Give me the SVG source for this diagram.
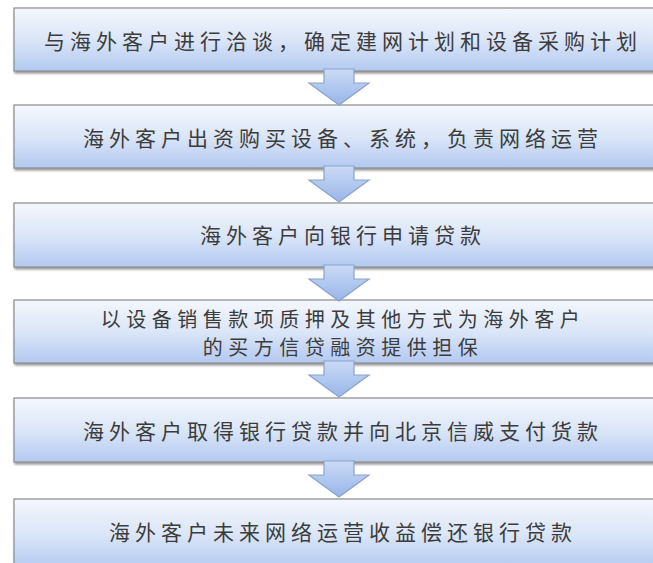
<svg xmlns="http://www.w3.org/2000/svg" width="653" height="563" viewBox="0 0 653 563">
<defs>
<linearGradient id="boxg" x1="0" y1="0" x2="0" y2="1">
<stop offset="0" stop-color="#f4f7fd"/>
<stop offset="0.5" stop-color="#dbe6f8"/>
<stop offset="1" stop-color="#b3c9f1"/>
</linearGradient>
<linearGradient id="arrg" x1="0" y1="0" x2="0" y2="1">
<stop offset="0" stop-color="#cbdaf5"/>
<stop offset="1" stop-color="#98b6ea"/>
</linearGradient>
<filter id="sh" x="-5%" y="-10%" width="110%" height="130%">
<feDropShadow dx="1" dy="2" stdDeviation="1.2" flood-color="#555" flood-opacity="0.6"/>
</filter>
<path id="arrow" d="M-15,-2 L15,-2 L15,12 L30,12 L0,34 L-30,12 L-15,12 Z"/>
</defs>
<style>
.box{fill:url(#boxg);stroke:#8c8c8c;stroke-width:1.2;filter:url(#sh)}
.t{font-family:"Noto Sans CJK SC","Noto Sans CJK TC",sans-serif;font-size:21px;fill:#3c3c3c;text-anchor:middle;dominant-baseline:central;letter-spacing:5px}
.t2{font-size:20px;letter-spacing:5.5px}
.arr{fill:url(#arrg);stroke:#8aa3c8;stroke-width:1.2;stroke-linejoin:miter}
</style>
<rect width="653" height="563" fill="#ffffff"/>
<g id="n1"><rect class="box" x="14" y="8" width="660" height="63"/><text class="t" x="343" y="40">与海外客户进行洽谈，确定建网计划和设备采购计划</text></g>
<g id="n2"><rect class="box" x="14" y="105" width="660" height="63"/><text class="t" x="343" y="137">海外客户出资购买设备、系统，负责网络运营</text></g>
<g id="n3"><rect class="box" x="14" y="203" width="660" height="64"/><text class="t" x="343" y="234">海外客户向银行申请贷款</text></g>
<g id="n4"><rect class="box" x="14" y="300" width="660" height="63"/><text class="t t2" x="343" y="318">以设备销售款项质押及其他方式为海外客户</text><text class="t t2" x="343" y="346">的买方信贷融资提供担保</text></g>
<g id="n5"><rect class="box" x="14" y="398" width="660" height="64"/><text class="t" x="343" y="430">海外客户取得银行贷款并向北京信威支付货款</text></g>
<g id="n6"><rect class="box" x="14" y="499" width="660" height="70"/><text class="t" x="343" y="531">海外客户未来网络运营收益偿还银行贷款</text></g>
<g id="connectors">
<use href="#arrow" class="arr" transform="translate(339,71)"/>
<use href="#arrow" class="arr" transform="translate(339,168)"/>
<use href="#arrow" class="arr" transform="translate(339,267)"/>
<use href="#arrow" class="arr" transform="translate(339,363)"/>
<use href="#arrow" class="arr" transform="translate(339,463)"/>
</g>
</svg>
